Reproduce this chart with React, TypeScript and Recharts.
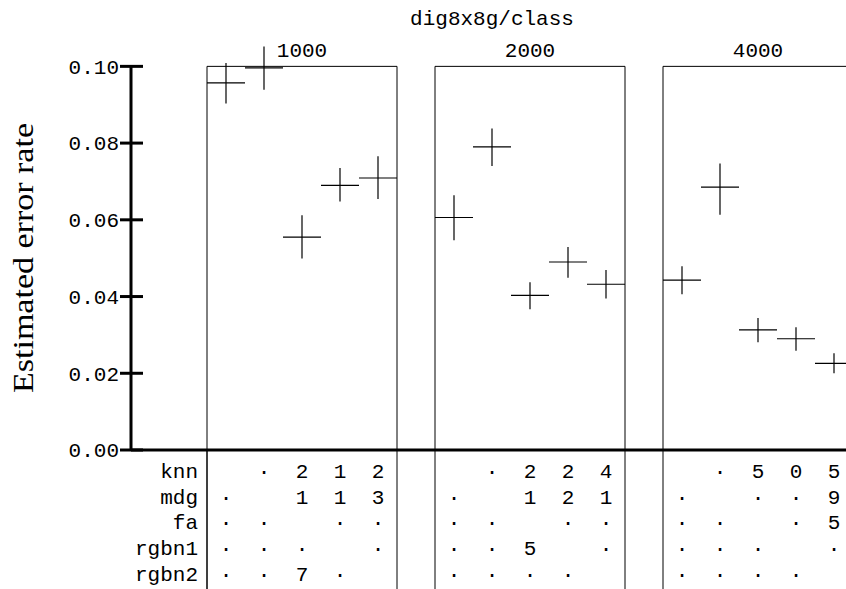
import React from 'react';
import {
  ComposedChart,
  Scatter,
  XAxis,
  YAxis,
  ErrorBar,
  ReferenceArea,
  ReferenceLine,
} from 'recharts';

const MONO = "'Liberation Mono', 'Courier New', monospace";
const SERIF = "'Liberation Serif', 'Times New Roman', serif";
const FS = 21;

// ---------- data ----------
const TITLE = 'dig8x8g/class';
const Y_LABEL = 'Estimated error rate';
const SIZES = ['1000', '2000', '4000'];
const METHODS = ['knn', 'mdg', 'fa', 'rgbn1', 'rgbn2'];
const Y_TICKS = [0, 0.02, 0.04, 0.06, 0.08, 0.1];

const RATE_1000 = [0.0957, 0.0996, 0.0555, 0.069, 0.0709];
const LOW_1000 = [0.0903, 0.0939, 0.0499, 0.0648, 0.0654];
const HIGH_1000 = [0.1009, 0.1052, 0.0612, 0.0735, 0.0766];

const RATE_2000 = [0.0606, 0.079, 0.0403, 0.049, 0.0432];
const LOW_2000 = [0.0547, 0.074, 0.0367, 0.0449, 0.0395];
const HIGH_2000 = [0.0664, 0.0838, 0.0437, 0.0529, 0.0469];

const RATE_4000 = [0.0443, 0.0685, 0.0313, 0.029, 0.0226];
const LOW_4000 = [0.0406, 0.0613, 0.0281, 0.0259, 0.02];
const HIGH_4000 = [0.0479, 0.0747, 0.0344, 0.032, 0.0252];

// pairwise comparison tables (row method vs column method)
const TABLE_1000 = [
  ['', '·', '2', '1', '2'],
  ['·', '', '1', '1', '3'],
  ['·', '·', '', '·', '·'],
  ['·', '·', '·', '', '·'],
  ['·', '·', '7', '·', ''],
];
const TABLE_2000 = [
  ['', '·', '2', '2', '4'],
  ['·', '', '1', '2', '1'],
  ['·', '·', '', '·', '·'],
  ['·', '·', '5', '', '·'],
  ['·', '·', '·', '·', ''],
];
const TABLE_4000 = [
  ['', '·', '5', '0', '5'],
  ['·', '', '·', '·', '9'],
  ['·', '·', '', '·', '5'],
  ['·', '·', '·', '', '·'],
  ['·', '·', '·', '·', ''],
];

const RATES = [RATE_1000, RATE_2000, RATE_4000];
const LOWS = [LOW_1000, LOW_2000, LOW_4000];
const HIGHS = [HIGH_1000, HIGH_2000, HIGH_4000];
const TABLES = [TABLE_1000, TABLE_2000, TABLE_4000];

// ---------- slot layout (in x-axis units) ----------
const LEAD = 2;
const GAP = 1;
const N = METHODS.length;
const panelStart = (p: number) => LEAD + p * (N + GAP);
const slot = (p: number, m: number) => panelStart(p) + m + 0.5;
const X_MAX = LEAD + SIZES.length * N + (SIZES.length - 1) * GAP;

const points = SIZES.flatMap((_, p) =>
  METHODS.map((_m, i) => ({
    x: slot(p, i),
    y: RATES[p][i],
    err: [RATES[p][i] - LOWS[p][i], HIGHS[p][i] - RATES[p][i]],
  }))
);

const cells = SIZES.flatMap((_, p) =>
  TABLES[p].flatMap((row, r) =>
    row
      .map((t, c) => ({ x: slot(p, c), row: r, text: t }))
      .filter((d) => d.text !== '')
  )
);

const CHART_W = 853;

const Cross = (props: any) => {
  const { cx, cy } = props;
  if (cx == null || cy == null) return null;
  return (
    <line x1={cx - 19} x2={cx + 19} y1={cy} y2={cy} stroke="#000" strokeWidth={1.2} />
  );
};

const CellText = (props: any) => {
  const { cx, cy, payload } = props;
  if (cx == null || cy == null) return null;
  return (
    <text
      x={cx}
      y={cy}
      dy="0.35em"
      textAnchor="middle"
      fontFamily={MONO}
      fontSize={FS}
      fill="#000"
    >
      {payload.text}
    </text>
  );
};

const YTick = (props: any) => {
  const { x, y, payload } = props;
  return (
    <g>
      <line x1={x + 1} x2={x + 24} y1={y} y2={y} stroke="#000" strokeWidth={3} />
      <text
        x={x}
        y={y}
        dy="0.35em"
        textAnchor="end"
        fontFamily={MONO}
        fontSize={FS}
        fill="#000"
      >
        {Number(payload.value).toFixed(2)}
      </text>
    </g>
  );
};

const YLabel = () => (
  <text
    x={33}
    y={258}
    transform="rotate(-90 33 258)"
    textAnchor="middle"
    fontFamily={SERIF}
    fontSize={30}
    textLength={270}
    lengthAdjust="spacingAndGlyphs"
    fill="#000"
  >
    {Y_LABEL}
  </text>
);

export default function App() {
  return (
    <div
      style={{
        position: 'absolute',
        left: 0,
        top: 0,
        width: 846,
        height: 589,
        overflow: 'hidden',
        background: '#fff',
      }}
    >
      <div style={{ position: 'absolute', left: 0, top: 450 }}>
        <ComposedChart
          width={CHART_W}
          height={139}
          margin={{ top: 0, right: 0, bottom: 0, left: 0 }}
          data={cells}
        >
          <XAxis type="number" dataKey="x" domain={[LEAD, X_MAX]} hide />
          <YAxis
            type="number"
            dataKey="row"
            domain={[-0.5, N - 0.5]}
            reversed
            ticks={METHODS.map((_, i) => i)}
            tickFormatter={(i: number) => METHODS[i] ?? ''}
            interval={0}
            width={207}
            padding={{ top: 8, bottom: 3 }}
            axisLine={{ stroke: '#000' }}
            tickLine={false}
            tickSize={0}
            tickMargin={9}
            tick={{ fontFamily: MONO, fontSize: FS, fill: '#000' }}
          />
          {SIZES.flatMap((s, p) => [
            <ReferenceLine key={s + 'a'} x={panelStart(p)} stroke="#000" />,
            <ReferenceLine key={s + 'b'} x={panelStart(p) + N} stroke="#000" />,
          ])}
          <Scatter data={cells} dataKey="row" shape={CellText} isAnimationActive={false} />
        </ComposedChart>
      </div>
      <div style={{ position: 'absolute', left: 0, top: 0 }}>
        <ComposedChart
          width={CHART_W}
          height={470}
          margin={{ top: 0, right: 0, bottom: 0, left: 0 }}
          data={points}
        >
          <XAxis
            xAxisId="top"
            orientation="top"
            type="number"
            dataKey="x"
            domain={[0, X_MAX]}
            height={28}
            axisLine={false}
            tickLine={false}
            tick={false}
            label={{
              value: TITLE,
              position: 'insideBottom',
              offset: 3,
              fontFamily: MONO,
              fontSize: FS,
              fill: '#000',
            }}
          />
          <XAxis
            type="number"
            dataKey="x"
            domain={[0, X_MAX]}
            height={20}
            tick={false}
            tickLine={false}
            axisLine={{ stroke: '#000', strokeWidth: 3 }}
          />
          <YAxis
            type="number"
            dataKey="y"
            domain={[0, 0.11]}
            ticks={Y_TICKS}
            width={131}
            axisLine={false}
            tickLine={false}
            tickSize={12}
            tickMargin={0}
            tick={YTick}
            interval={0}
            label={YLabel}
          />
          {SIZES.map((s, p) => (
            <ReferenceArea
              key={s}
              x1={panelStart(p)}
              x2={panelStart(p) + N}
              y1={0}
              y2={0.1}
              fill="none"
              stroke="#000"
              strokeWidth={1}
              ifOverflow="visible"
              label={{
                value: s,
                position: 'top',
                offset: 9,
                fontFamily: MONO,
                fontSize: FS,
                fill: '#000',
              }}
            />
          ))}
          <ReferenceLine
            segment={[
              { x: 0, y: 0 },
              { x: 0, y: 0.1 },
            ]}
            stroke="#000"
            strokeWidth={3}
            ifOverflow="visible"
          />
          <Scatter data={points} dataKey="y" shape={Cross} isAnimationActive={false}>
            <ErrorBar
              dataKey="err"
              direction="y"
              width={0}
              stroke="#000"
              strokeWidth={1.2}
              isAnimationActive={false}
            />
          </Scatter>
        </ComposedChart>
      </div>
    </div>
  );
}
